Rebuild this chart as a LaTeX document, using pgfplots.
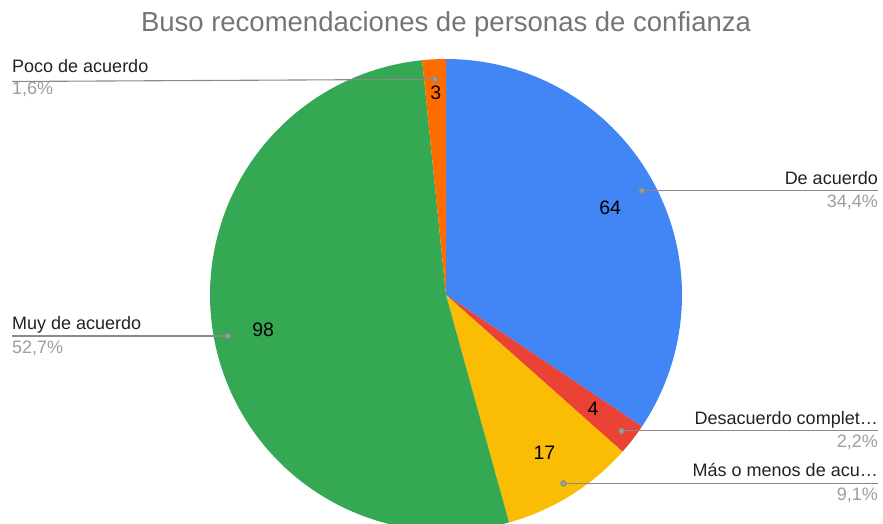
\documentclass[border=0pt]{standalone}
\usepackage{fontspec}
\setmainfont{Liberation Sans}
\usepackage{pgfplots}
\pgfplotsset{compat=1.18}
\definecolor{sA}{HTML}{4285F4}
\definecolor{sB}{HTML}{EA4335}
\definecolor{sC}{HTML}{FBBC04}
\definecolor{sD}{HTML}{34A853}
\definecolor{sE}{HTML}{FF6D01}
\definecolor{titlegray}{HTML}{757575}
\definecolor{pctgray}{HTML}{9E9E9E}
\definecolor{linegray}{HTML}{8A8A8A}
\definecolor{labtext}{HTML}{222222}
\begin{document}
\begin{tikzpicture}
% data: De acuerdo, Desacuerdo completamente, Mas o menos de acuerdo, Muy de acuerdo, Poco de acuerdo
\def\vA{64}\def\vB{4}\def\vC{17}\def\vD{98}\def\vE{3}
\def\cx{446}\def\cy{229}\def\R{236}
\pgfmathsetmacro\tot{\vA+\vB+\vC+\vD+\vE}
\pgfmathsetmacro\deg{360/\tot}
\pgfmathsetmacro\kA{\deg*\vA}
\pgfmathsetmacro\kB{\kA+\deg*\vB}
\pgfmathsetmacro\kC{\kB+\deg*\vC}
\pgfmathsetmacro\kD{\kC+\deg*\vD}
% math angles
\pgfmathsetmacro\aA{90-\kA}
\pgfmathsetmacro\aB{90-\kB}
\pgfmathsetmacro\aC{90-\kC}
\pgfmathsetmacro\aD{90-\kD}
% mid angles
\pgfmathsetmacro\mA{(90+\aA)/2}
\pgfmathsetmacro\mB{(\aA+\aB)/2}
\pgfmathsetmacro\mC{(\aB+\aC)/2}
\pgfmathsetmacro\mD{(\aC+\aD)/2}
\pgfmathsetmacro\mE{(\aD-270)/2}
% value label positions
\pgfmathsetmacro\lAx{\cx+186*cos(\mA)}\pgfmathsetmacro\lAy{\cy+186*sin(\mA)}
\pgfmathsetmacro\lBx{\cx+186*cos(\mB)}\pgfmathsetmacro\lBy{\cy+186*sin(\mB)}
\pgfmathsetmacro\lCx{\cx+186*cos(\mC)}\pgfmathsetmacro\lCy{\cy+186*sin(\mC)}
\pgfmathsetmacro\lDx{\cx+186*cos(\mD)}\pgfmathsetmacro\lDy{\cy+186*sin(\mD)}
\pgfmathsetmacro\lEx{\cx+202*cos(\mE)}\pgfmathsetmacro\lEy{\cy+202*sin(\mE)}
% leader dots
\pgfmathsetmacro\dAx{\cx+222*cos(\mA)}\pgfmathsetmacro\dAy{\cy+222*sin(\mA)}
\pgfmathsetmacro\dBx{\cx+222*cos(\mB)}\pgfmathsetmacro\dBy{\cy+222*sin(\mB)}
\pgfmathsetmacro\dCx{\cx+222*cos(\mC)}\pgfmathsetmacro\dCy{\cy+222*sin(\mC)}
\pgfmathsetmacro\dDx{\cx+222*cos(\mD)}\pgfmathsetmacro\dDy{\cy+222*sin(\mD)}
\pgfmathsetmacro\dEx{\cx+216*cos(\mE)}\pgfmathsetmacro\dEy{\cy+216*sin(\mE)}
\pgfmathsetmacro\tAy{\dAy+6.5}\pgfmathsetmacro\pAy{\dAy-17}
\pgfmathsetmacro\tBy{\dBy+6.5}\pgfmathsetmacro\pBy{\dBy-16.5}
\pgfmathsetmacro\tCy{\dCy+6.5}\pgfmathsetmacro\pCy{\dCy-17}
\pgfmathsetmacro\tDy{\dDy+6.5}\pgfmathsetmacro\pDy{\dDy-17}
\begin{axis}[x=1pt,y=1pt,xmin=0,xmax=883,ymin=0,ymax=524,
  scale only axis,hide axis,clip=true]
\path (rel axis cs:0,0) rectangle (rel axis cs:1,1);
\addplot[fill=sA,draw=none,domain=\aA:90,samples=120,variable=\t]
  ({\cx+\R*cos(\t)},{\cy+\R*sin(\t)}) -- (axis cs:\cx,\cy) -- cycle;
\addplot[fill=sB,draw=none,domain=\aB:\aA,samples=20,variable=\t]
  ({\cx+\R*cos(\t)},{\cy+\R*sin(\t)}) -- (axis cs:\cx,\cy) -- cycle;
\addplot[fill=sC,draw=none,domain=\aC:\aB,samples=40,variable=\t]
  ({\cx+\R*cos(\t)},{\cy+\R*sin(\t)}) -- (axis cs:\cx,\cy) -- cycle;
\addplot[fill=sD,draw=none,domain=\aD:\aC,samples=160,variable=\t]
  ({\cx+\R*cos(\t)},{\cy+\R*sin(\t)}) -- (axis cs:\cx,\cy) -- cycle;
\addplot[fill=sE,draw=none,domain=-270:\aD,samples=10,variable=\t]
  ({\cx+\R*cos(\t)},{\cy+\R*sin(\t)}) -- (axis cs:\cx,\cy) -- cycle;
% leader lines
\addplot[linegray,line width=1.1pt,mark=*,mark indices={1},mark size=2.6pt,
  mark options={fill=pctgray,draw=none}] coordinates {(\dAx,\dAy) (878,\dAy)};
\addplot[linegray,line width=1.1pt,mark=*,mark indices={1},mark size=2.6pt,
  mark options={fill=pctgray,draw=none}] coordinates {(\dBx,\dBy) (878,\dBy)};
\addplot[linegray,line width=1.1pt,mark=*,mark indices={1},mark size=2.6pt,
  mark options={fill=pctgray,draw=none}] coordinates {(\dCx,\dCy) (878,\dCy)};
\addplot[linegray,line width=1.1pt,mark=*,mark indices={1},mark size=2.6pt,
  mark options={fill=pctgray,draw=none}] coordinates {(\dDx,\dDy) (12,\dDy)};
\addplot[linegray,line width=1.1pt,mark=*,mark indices={1},mark size=2.6pt,
  mark options={fill=pctgray,draw=none}] coordinates {(\dEx,\dEy) (12,442.5)};
% value labels
\node[font=\fontsize{19.5}{22}\selectfont] at (axis cs:\lAx,\lAy) {64};
\node[font=\fontsize{19.5}{22}\selectfont] at (axis cs:\lBx,\lBy) {4};
\node[font=\fontsize{19.5}{22}\selectfont] at (axis cs:\lCx,\lCy) {17};
\node[font=\fontsize{19.5}{22}\selectfont] at (axis cs:\lDx,\lDy) {98};
\node[font=\fontsize{19.5}{22}\selectfont] at (axis cs:\lEx,\lEy) {3};
% category labels
\node[anchor=base east,inner sep=0pt,text=labtext,font=\fontsize{18}{20}\selectfont] at (axis cs:878,\tAy) {De acuerdo};
\node[anchor=base east,inner sep=0pt,text=pctgray,font=\fontsize{18}{20}\selectfont] at (axis cs:878,\pAy) {34,4\%};
\node[anchor=base east,inner sep=0pt,text=labtext,font=\fontsize{18}{20}\selectfont] at (axis cs:878,\tBy) {Desacuerdo complet…};
\node[anchor=base east,inner sep=0pt,text=pctgray,font=\fontsize{18}{20}\selectfont] at (axis cs:878,\pBy) {2,2\%};
\node[anchor=base east,inner sep=0pt,text=labtext,font=\fontsize{18}{20}\selectfont] at (axis cs:878,\tCy) {Más o menos de acu…};
\node[anchor=base east,inner sep=0pt,text=pctgray,font=\fontsize{18}{20}\selectfont] at (axis cs:878,\pCy) {9,1\%};
\node[anchor=base west,inner sep=0pt,text=labtext,font=\fontsize{18}{20}\selectfont] at (axis cs:12,\tDy) {Muy de acuerdo};
\node[anchor=base west,inner sep=0pt,text=pctgray,font=\fontsize{18}{20}\selectfont] at (axis cs:12,\pDy) {52,7\%};
\node[anchor=base west,inner sep=0pt,text=labtext,font=\fontsize{18}{20}\selectfont] at (axis cs:12,451) {Poco de acuerdo};
\node[anchor=base west,inner sep=0pt,text=pctgray,font=\fontsize{18}{20}\selectfont] at (axis cs:12,429) {1,6\%};
% title
\node[anchor=base,inner sep=0pt,text=titlegray,font=\fontsize{27.5}{30}\selectfont] at (axis cs:446,492) {Buso recomendaciones de personas de confianza};
\end{axis}
\end{tikzpicture}
\end{document}
